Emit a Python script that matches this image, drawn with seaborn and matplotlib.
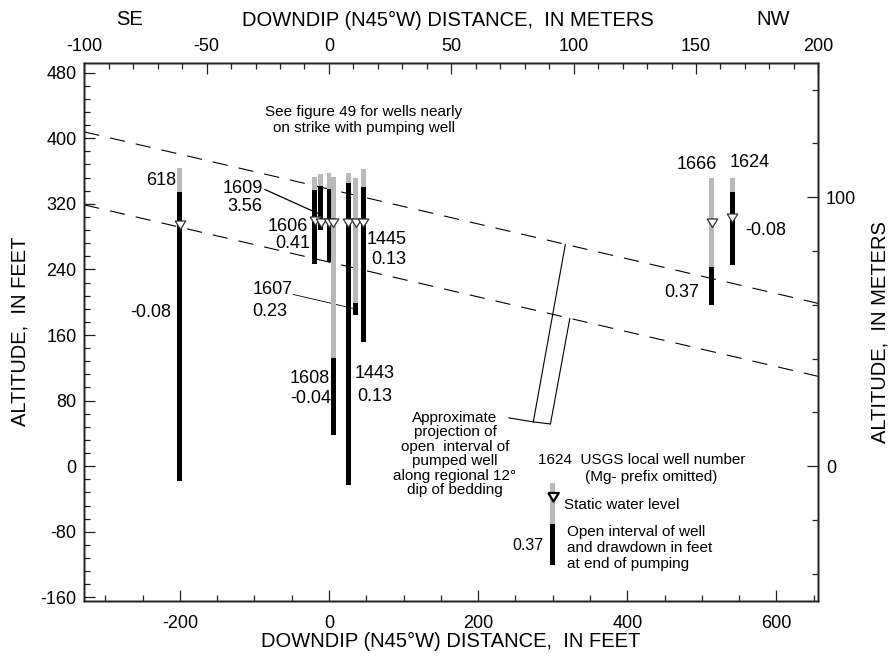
import numpy as np
import pandas as pd
import matplotlib
matplotlib.use("Agg")
import matplotlib.pyplot as plt
import seaborn as sns
from matplotlib.ticker import MultipleLocator

FT_PER_M = 3.28084
DIP_DEG = 12.0

# Wells projected onto the downdip section (feet)
well_ids   = ["618", "1606", "1609", "pumped", "1608", "1443", "1607", "1445", "1666", "1624"]
well_x     = [-200, -19, -11, 0, 6, 26, 36, 46, 513, 541]
casing_top = [364, 353, 356, 357, 353, 358, 352, 362, 352, 352]
open_top   = [335, 337, 342, 338, 132, 345, 199, 341, 243, 334]
open_bot   = [-18, 246, 288, 249, 38, -23, 184, 152, 197, 245]
water_lvl  = [289, 294, 292, 292, 292, 292, 292, 292, 292, 298]
drawdown   = ["-0.08", "0.41", "3.56", "", "-0.04", "0.13", "0.23", "0.13", "0.37", "-0.08"]

# Explanation well
key_x, key_casing, key_top, key_bot, key_wl = 300, -21, -70, -120, -43

XLIM_M = (-100, 200)
YLIM_M = (-50, 150)

sns.set_theme(style="ticks")
plt.rcParams["font.family"] = ["Liberation Sans", "DejaVu Sans"]
plt.rcParams["lines.scale_dashes"] = False
plt.rcParams["axes.unicode_minus"] = False
for k in ("text.color", "axes.labelcolor", "xtick.labelcolor", "ytick.labelcolor"):
    plt.rcParams[k] = "black"

fig = plt.figure(figsize=(8.93, 6.62), dpi=100)
ax = fig.add_axes([0.0944, 0.0926, 0.82195, 0.81269])

xlim = (XLIM_M[0] * FT_PER_M, XLIM_M[1] * FT_PER_M)
ylim = (YLIM_M[0] * FT_PER_M, YLIM_M[1] * FT_PER_M)

wells = pd.DataFrame({
    "id": well_ids, "x": well_x, "casing": casing_top,
    "top": open_top, "bot": open_bot, "wl": water_lvl, "dd": drawdown,
})

GRAY = "#b9b9b9"
BW = 6.5

# casing (gray) and open interval (black)
ax.bar(wells["x"], wells["casing"] - wells["top"], bottom=wells["top"],
       width=BW, color=GRAY, linewidth=0, zorder=2)
ax.bar(wells["x"], wells["top"] - wells["bot"], bottom=wells["bot"],
       width=BW, color="black", linewidth=0, zorder=3)

# static water level markers (tip on the level)
tri = [(-0.62, 1.0), (0.62, 1.0), (0.0, 0.0), (-0.62, 1.0)]
sns.scatterplot(data=wells, x="x", y="wl", marker=tri, s=150, color="white",
                edgecolor="#333333", linewidth=0.9, zorder=5, ax=ax, legend=False)

# projection of pumped-well open interval along the regional dip
slope = -np.tan(np.radians(DIP_DEG))
pw = wells[wells["id"] == "pumped"].iloc[0]
xs = np.array(xlim)
proj = pd.DataFrame({
    "x": np.concatenate([xs, xs]),
    "y": np.concatenate([pw["top"] + slope * (xs - pw["x"]),
                         pw["bot"] + slope * (xs - pw["x"])]),
    "edge": ["top", "top", "bottom", "bottom"],
})
for edge, grp in proj.groupby("edge"):
    sns.lineplot(data=grp, x="x", y="y", color="black", linewidth=0.8,
                 dashes=False, ax=ax, zorder=1)
for ln in ax.lines:
    ln.set_dashes((11, 8))

def on_top(x):
    return pw["top"] + slope * (x - pw["x"])

def on_bot(x):
    return pw["bot"] + slope * (x - pw["x"])

lkw = dict(color="black", linewidth=0.8, zorder=1)
ax.plot([317, 274], [on_top(317), 54], **lkw)
ax.plot([323, 297], [on_bot(323), 51.5], **lkw)
ax.plot([241, 274, 297], [59, 54, 51.5], **lkw)

# explanation well
ax.bar([key_x], [key_casing - key_top], bottom=[key_top], width=BW, color=GRAY, linewidth=0)
ax.bar([key_x], [key_top - key_bot], bottom=[key_bot], width=BW, color="black", linewidth=0)
ax.scatter([key_x], [key_wl], marker=tri, s=150, color="white", edgecolor="black",
           linewidth=1.6, zorder=5)

# labels
WF = 13
AF = 11
def lab(x, y, s, ha="center", size=WF):
    ax.text(x, y, s, ha=ha, va="center", fontsize=size, zorder=6)

lab(-225, 349, "618"); lab(-239, 188, wells.loc[0, "dd"])
lab(-116, 339, "1609"); lab(-113, 316.5, wells.loc[2, "dd"])
ax.plot([-86, -14], [337.5, 308], color="black", linewidth=0.9, zorder=6)
lab(-55, 292, "1606"); lab(-49, 272, wells.loc[1, "dd"])
lab(50.5, 276, "1445", ha="left"); lab(57, 251.5, wells.loc[7, "dd"], ha="left")
lab(-76, 216, "1607"); lab(-79, 188.5, wells.loc[6, "dd"])
ax.plot([-48, 32], [209.5, 192.5], color="black", linewidth=0.6, zorder=1)
lab(-25.5, 106.5, "1608"); lab(-25, 82, wells.loc[4, "dd"])
lab(61.5, 112.5, "1443"); lab(61.5, 84.5, wells.loc[5, "dd"])
lab(493, 368.5, "1666"); lab(497, 211.5, wells.loc[8, "dd"], ha="right")
lab(564, 370, "1624"); lab(585.5, 287, wells.loc[9, "dd"])

ax.text(47, 422, "See figure 49 for wells nearly\non strike with pumping well",
        ha="center", va="center", fontsize=AF, linespacing=1.15)
ax.text(169, 15, "Approximate\nprojection of\nopen  interval of\npumped well\nalong regional 12\u00b0\ndip of bedding",
        ha="center", va="center", fontsize=AF, linespacing=1.05)

ax.text(280.5, 7.6, "1624  USGS local well number", ha="left", va="center", fontsize=AF)
ax.text(432.6, -12.8, "(Mg- prefix omitted)", ha="center", va="center", fontsize=AF)
ax.text(315, -47.3, "Static water level", ha="left", va="center", fontsize=AF)
ax.text(318.7, -99.8, "Open interval of well\nand drawdown in feet\nat end of pumping",
        ha="left", va="center", fontsize=AF, linespacing=1.15)
ax.text(266.8, -96.2, "0.37", ha="center", va="center", fontsize=11.5)

# axes, ticks
ax.set_xlim(*xlim)
ax.set_ylim(*ylim)
ax.set_xlabel(""); ax.set_ylabel("")
ax.xaxis.set_major_locator(MultipleLocator(200))
ax.xaxis.set_minor_locator(MultipleLocator(50))
ax.yaxis.set_major_locator(MultipleLocator(80))
ax.yaxis.set_minor_locator(MultipleLocator(16))

ax_m = ax.twinx()
ax_m.set_ylim(*YLIM_M)
ax_m.yaxis.set_major_locator(MultipleLocator(100))
ax_m.yaxis.set_minor_locator(MultipleLocator(20))
ax_t = ax.twiny()
ax_t.set_xlim(*XLIM_M)
ax_t.xaxis.set_major_locator(MultipleLocator(50))
ax_t.xaxis.set_minor_locator(MultipleLocator(10))

SP = "#222222"
for a in (ax, ax_m, ax_t):
    for s in a.spines.values():
        s.set_color(SP); s.set_linewidth(1.0)
    a.tick_params(which="major", direction="in", length=8, width=0.9, color=SP,
                  labelsize=13, pad=5.5, labelcolor="black")
    a.tick_params(which="minor", direction="in", length=4, width=0.9, color=SP)
ax.tick_params(axis="x", which="major", pad=10)
ax.tick_params(axis="x", which="both", top=False)
ax.tick_params(axis="y", which="both", right=False)
ax_t.tick_params(axis="x", which="both", bottom=False, top=True)
ax_m.tick_params(axis="y", which="both", left=False, right=True)
ax_m.set_yticklabels(["" if v not in (0, 100) else f"{int(v)}" for v in ax_m.get_yticks()])

fig.text(0.5017, 0.9698, "DOWNDIP (N45\u00b0W) DISTANCE,  IN METERS", ha="center", va="center", fontsize=14.5)
fig.text(0.1445, 0.9698, "SE", ha="center", va="center", fontsize=14.5)
fig.text(0.8656, 0.9698, "NW", ha="center", va="center", fontsize=14.5)
fig.text(0.505, 0.0317, "DOWNDIP (N45\u00b0W) DISTANCE,  IN FEET", ha="center", va="center", fontsize=14.5)
fig.text(0.0224, 0.499, "ALTITUDE,  IN FEET", ha="center", va="center", rotation=90, fontsize=14.5)
fig.text(0.9854, 0.499, "ALTITUDE,  IN METERS", ha="center", va="center", rotation=90, fontsize=14.5)

fig.savefig("out.png", dpi=100)
